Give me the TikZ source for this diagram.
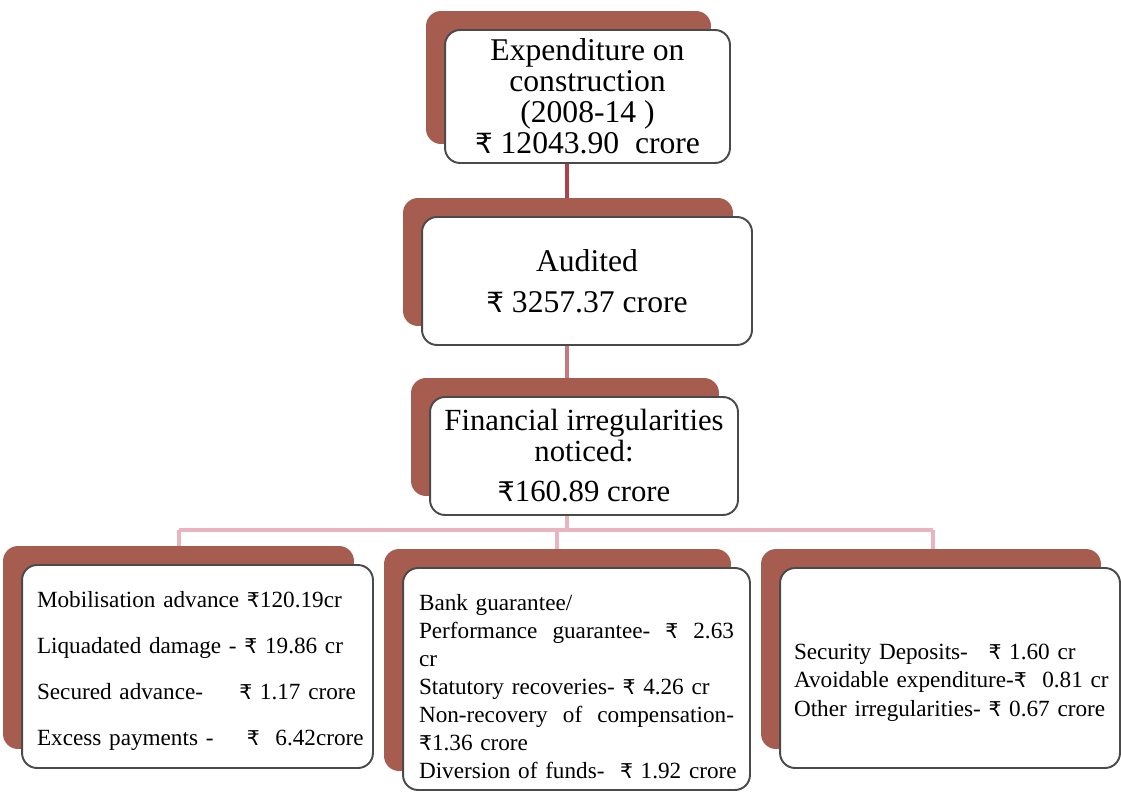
\documentclass[tikz,border=0pt]{standalone}
\usepackage{fontspec}
\setmainfont{Liberation Serif}
\newfontfamily\rupeefont{DejaVu Sans}[Scale=0.88]
\usetikzlibrary{shadows,backgrounds}
\definecolor{auBrown}{HTML}{A65C4E}
\definecolor{auDark}{HTML}{B0404A}
\definecolor{auMid}{HTML}{C8787F}
\definecolor{auPink}{HTML}{E8B4C0}
\definecolor{auEdge}{HTML}{4A4A4A}
\newcommand{\rs}{{\rupeefont ₹}}

\begin{document}
\begin{tikzpicture}[x=0.02cm,y=-0.02cm,
      card/.style={draw=auEdge,line width=1.1pt,fill=white,rounded corners=0.3cm,
        general shadow={fill=auBrown,draw=none,shadow xshift=-0.38cm,shadow yshift=0.38cm},
        inner sep=0pt},
      head/.style={card,align=center,font=\fontsize{18}{17.6}\selectfont},
      leaf/.style={card,align=left,font=\fontsize{13.2}{16}\selectfont},
      link/.style={line width=2.2pt}]
    \useasboundingbox (0,0) rectangle (1121,793);
    \node[head,minimum width=5.7cm,minimum height=2.66cm] (exp) at (587.5,96.5)
      {Expenditure on\\construction\\(2008-14 )\\\rs{} 12043.90\ \ crore};
    \node[head,minimum width=6.6cm,minimum height=2.56cm] (aud) at (587,281)
      {Audited\\[6pt]\rs{} 3257.37 crore};
    \node[head,minimum width=6.16cm,minimum height=2.36cm,font=\fontsize{17.5}{17.2}\selectfont] (fin) at (584,456)
      {Financial irregularities\\noticed:\\[6pt]\rs160.89 crore};
    \node[leaf,minimum width=7.02cm,minimum height=4.06cm,text width=6.42cm,
      font=\fontsize{13.2}{26.3}\selectfont] (adv) at (197.5,666.5)
      {\rule{0pt}{0.5cm}Mobilisation advance \rs120.19cr\\
       Liquadated damage - \rs{} 19.86 cr\\
       \mbox{\rlap{Secured advance-}\phantom{Mobilisation advance}\rs{} 1.17 crore}\\
       \mbox{\rlap{Excess payments -}\phantom{Mobilisation advance\ }\rs{}\ \ 6.42crore}};
    \node[leaf,minimum width=6.94cm,minimum height=4.44cm,text width=6.3cm] (gua) at (576.5,679)
      {\rule{0pt}{0.62cm}Bank guarantee/\\
       \makebox[6.3cm][s]{Performance\hfill guarantee-\hfill\rs{}\hfill 2.63}\\
       cr\\
       Statutory recoveries- \rs{} 4.26 cr\\
       \makebox[6.3cm][s]{Non-recovery\hfill of\hfill compensation-}\\
       \rs1.36 crore\\
       \mbox{Diversion of funds-\ \ \rs{} 1.92 crore}};
    \node[leaf,minimum width=6.8cm,minimum height=4.0cm,text width=6.24cm] (dep) at (950,668)
      {\rule{0pt}{0.9cm}\mbox{\rlap{Security Deposits-}\phantom{Other irregularities-\ }\rs{} 1.60 cr}\\
       \mbox{Avoidable expenditure-\rs{}\ \ 0.81 cr}\\
       \mbox{Other irregularities- \rs{} 0.67 crore}};
    % connectors behind the cards
    \coordinate (trunk) at (567,530);
    \coordinate (busL) at (179,530);
    \coordinate (busM) at (557,530);
    \coordinate (busR) at (933,530);
    \begin{scope}[on background layer]
      \draw[link,auDark] (exp.south -| trunk) -- (aud.north -| trunk);
      \draw[link,auMid] (aud.south -| trunk) -- (fin.north -| trunk);
      \draw[link,auPink] (fin.south -| trunk) -- (trunk);
      \draw[link,auPink] (busL) -- (busR);
      \draw[link,auPink] (busL) -- (adv.north -| busL);
      \draw[link,auPink] (busM) -- (gua.north -| busM);
      \draw[link,auPink] (busR) -- (dep.north -| busR);
    \end{scope}
  \end{tikzpicture}
\end{document}
